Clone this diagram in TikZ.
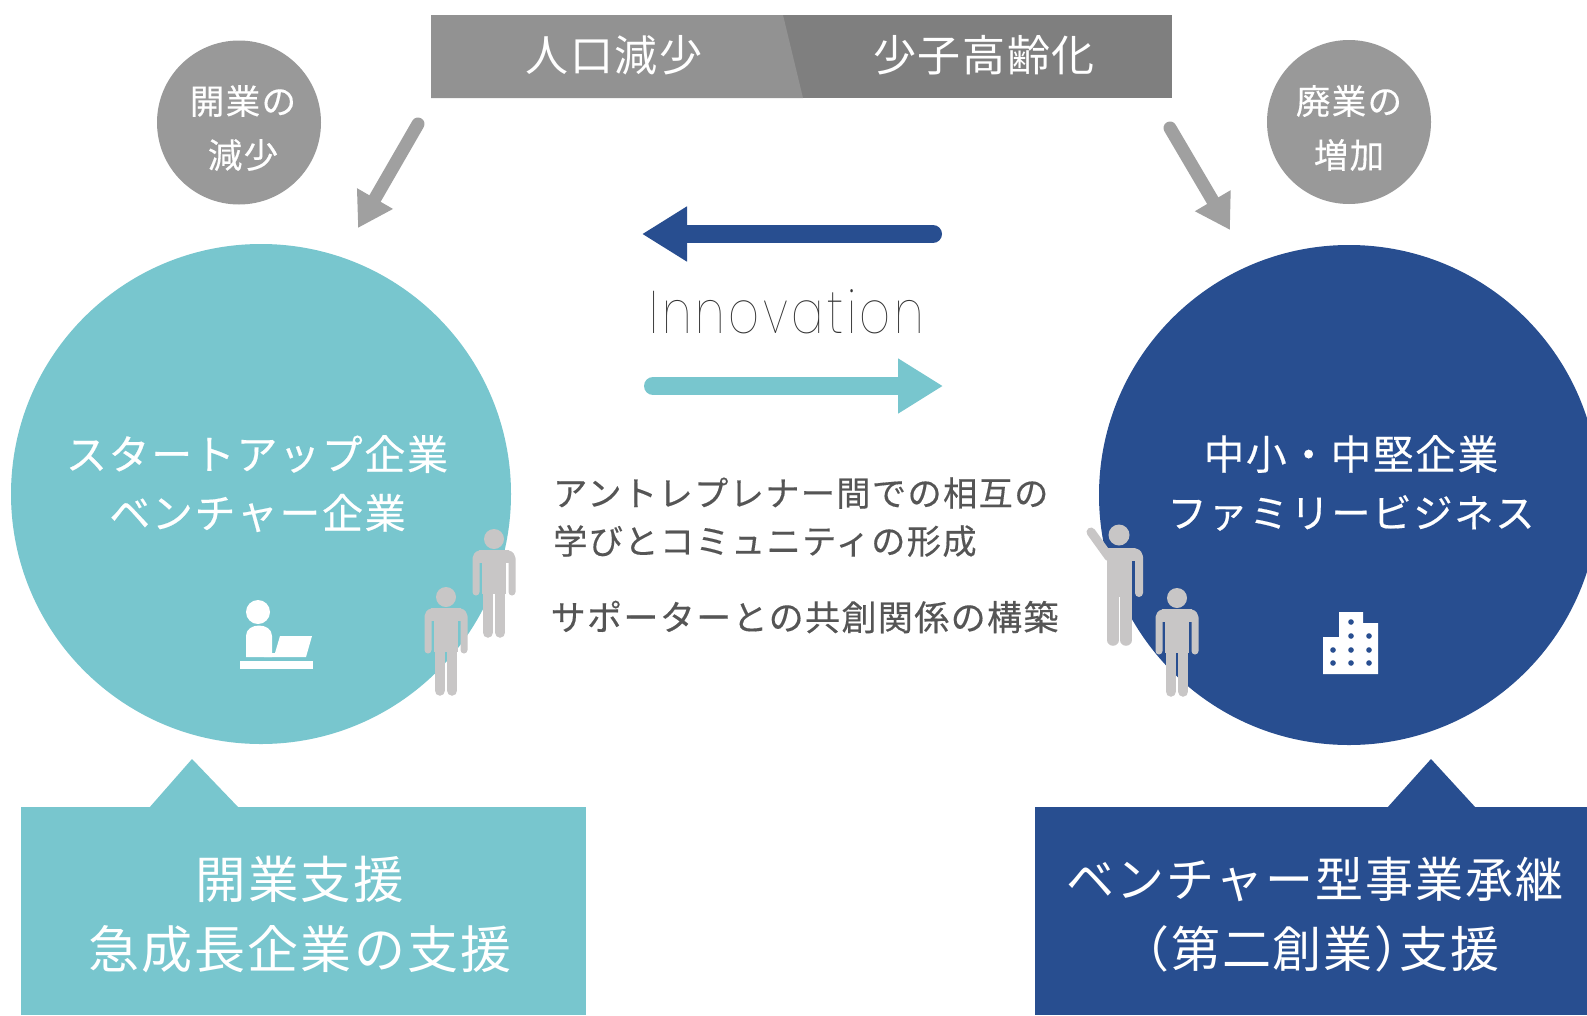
\documentclass[tikz,border=0pt]{standalone}
\usepackage{fontspec}
\usetikzlibrary{arrows.meta}
\newfontfamily\cjk[LetterSpace=4]{Noto Sans CJK JP}
\newfontfamily\cjkb[LetterSpace=4,FakeBold=0.35]{Noto Sans CJK JP}
\newfontfamily\latinthin[UprightFont={Poppins Thin},FakeStretch=0.8,LetterSpace=6]{Poppins}
\definecolor{teal1}{HTML}{78C6CE}
\definecolor{navy1}{HTML}{284E90}
\definecolor{barL}{HTML}{929292}
\definecolor{barD}{HTML}{7F7F7F}
\definecolor{arrowG}{HTML}{A0A0A0}
\definecolor{circG}{HTML}{999999}
\definecolor{manG}{HTML}{C8C6C6}
\definecolor{txtG}{HTML}{555555}
\newcommand{\fs}[1]{\fontsize{#1}{#1}\selectfont}
\tikzset{
  lbl/.style={inner sep=0pt,anchor=center,text=white,font=\cjk\fs{#1}},
  lblb/.style={inner sep=0pt,anchor=center,text=white,font=\cjkb\fs{#1}},
  body/.style={inner sep=0pt,anchor=west,text=txtG,font=\cjkb\fs{#1}},
  bigcirc1/.style={circle,inner sep=0pt,minimum size=500pt,fill=#1},
  smallcirc/.style={circle,inner sep=0pt,minimum size=164pt,fill=circG},
  grayarrow/.style={draw=arrowG,line width=13pt,line cap=round,-{Triangle[length=34pt,width=39pt,fill=arrowG]}},
  bigarrow/.style={draw=#1,line width=18pt,line cap=round,-{Triangle[length=45pt,width=52pt,fill=#1]}},
  man/.pic={
    \fill[manG] (0,0) circle (10);
    \fill[manG] (-15,11) rectangle (15,24);
    \fill[manG] (-12.2,11) rectangle (12.2,55);
    \draw[manG,line width=7pt,line cap=round,line join=round,rounded corners=5pt] (-18,53)--(-18,14.5)--(18,14.5)--(18,53);
    \draw[manG,line width=10.5pt,line cap=round] (-6.2,50)--(-6.2,93.5);
    \draw[manG,line width=10.5pt,line cap=round] (6.2,50)--(6.2,93.5);
  },
  manup/.pic={
    \fill[manG] (0,0) circle (10.5);
    \fill[manG] (-12,13) rectangle (16,26);
    \fill[manG] (-12,13) rectangle (13,62);
    \draw[manG,line width=8pt,line cap=round,line join=round,rounded corners=5pt] (8,17)--(20,17)--(20,58);
    \draw[manG,line width=9pt,line cap=round] (-10,22)--(-28,-3);
    \draw[manG,line width=11.5pt,line cap=round] (-6,55)--(-6,105);
    \draw[manG,line width=11.5pt,line cap=round] (7,55)--(7,105);
  }
}
\begin{document}
\begin{tikzpicture}[x=1pt,y=-1pt]
\useasboundingbox (0,0) rectangle (1587,1015);
\clip (0,0) rectangle (1587,1015);
\fill[white] (0,0) rectangle (1587,1015);

% top bar
\fill[barD] (431,15) rectangle (1172,98);
\fill[barL] (431,15) -- (783,15) -- (803,98) -- (431,98) -- cycle;
\node[lbl=43] (t1) at (614,55) {人口減少};
\node[lbl=43] (t2) at (984,55) {少子高齢化};

% small circles
\node[smallcirc] (cL) at (239,122.5) {};
\node[smallcirc] (cR) at (1349,122) {};
\node[lblb=34.5] (cL1) at (243,101) {開業の};
\node[lblb=34.5] (cL2) at (243,155) {減少};
\node[lblb=34.5] (cR1) at (1349,101) {廃業の};
\node[lblb=34.5] (cR2) at (1349,155) {増加};

% grey arrows
\coordinate (gL1) at (418,124);
\coordinate (gL2) at (358,228);
\coordinate (gR1) at (1170,128);
\coordinate (gR2) at (1230,230);
\draw[grayarrow] (gL1) -- (gL2);
\draw[grayarrow] (gR1) -- (gR2);

% big circles
\node[bigcirc1=teal1] (A) at (261,494) {};
\node[bigcirc1=navy1] (B) at (1349,495) {};
\node[lblb=41] (A1) at (257,454) {スタートアップ企業};
\node[lblb=41] (A2) at (257.5,513) {ベンチャー企業};
\node[lblb=40.7] (B1) at (1351,454) {中小・中堅企業};
\node[lblb=39.4] (B2) at (1351,513) {ファミリービジネス};

% innovation arrows
\coordinate (aB1) at (933,234);
\coordinate (aB2) at (642,234);
\coordinate (aT1) at (653,386);
\coordinate (aT2) at (943,386);
\draw[bigarrow=navy1] (aB1) -- (aB2);
\draw[bigarrow=teal1] (aT1) -- (aT2);
\node[inner sep=0pt,text=black!80,font=\latinthin\fs{60}] (inn) at (787,312) {Innovation};

% centre text
\node[body=34.2] (m1) at (553,493) {アントレプレナー間での相互の};
\node[body=34.2] (m2) at (553,541) {学びとコミュニティの形成};
\node[body=35] (m3) at (550.5,617) {サポーターとの共創関係の構築};

% bottom boxes
\fill[teal1] (21,807) rectangle (586,1015);
\fill[teal1] (149,808) -- (192,759) -- (239,808) -- cycle;
\fill[navy1] (1035,807) rectangle (1587,1015);
\fill[navy1] (1387,808) -- (1431,759) -- (1476,808) -- cycle;
\node[lbl=50.5] (bL1) at (300,879) {開業支援};
\node[lbl=51] (bL2) at (300,949) {急成長企業の支援};
\node[lbl=48] (bR1) at (1315,879) {ベンチャー型事業承継};
\node[lbl=49] (bR2) at (1322,949) {\hspace{-.5em}（第二創業）\hspace{-.5em}支援};

% people
\pic at (494,539) {man};
\pic at (446,597) {man};
\pic at (1119,535) {manup};
\pic at (1177,598) {man};

% laptop icon
\fill[white] (258,612) circle (12);
\fill[white] (246,657) -- (246,636) .. controls (246,622) and (272,622) .. (272,636) -- (272,657) -- cycle;
\fill[white] (280,636) -- (312,636) -- (306,657) -- (264,657) -- (264,653) -- (275,653) -- cycle;
\fill[white] (240,661) rectangle (313,669);

% building icon
\fill[white] (1339,612) -- (1363,612) -- (1363,623) -- (1378,623) -- (1378,674) -- (1323,674) -- (1323,637) -- (1339,637) -- cycle;
\foreach \p in {(1351,622),(1351,636),(1369,636),(1333,650),(1351,650),(1369,650),(1333,663),(1351,663),(1369,663)}
  \fill[navy1] \p circle (2.8);
\end{tikzpicture}
\end{document}
